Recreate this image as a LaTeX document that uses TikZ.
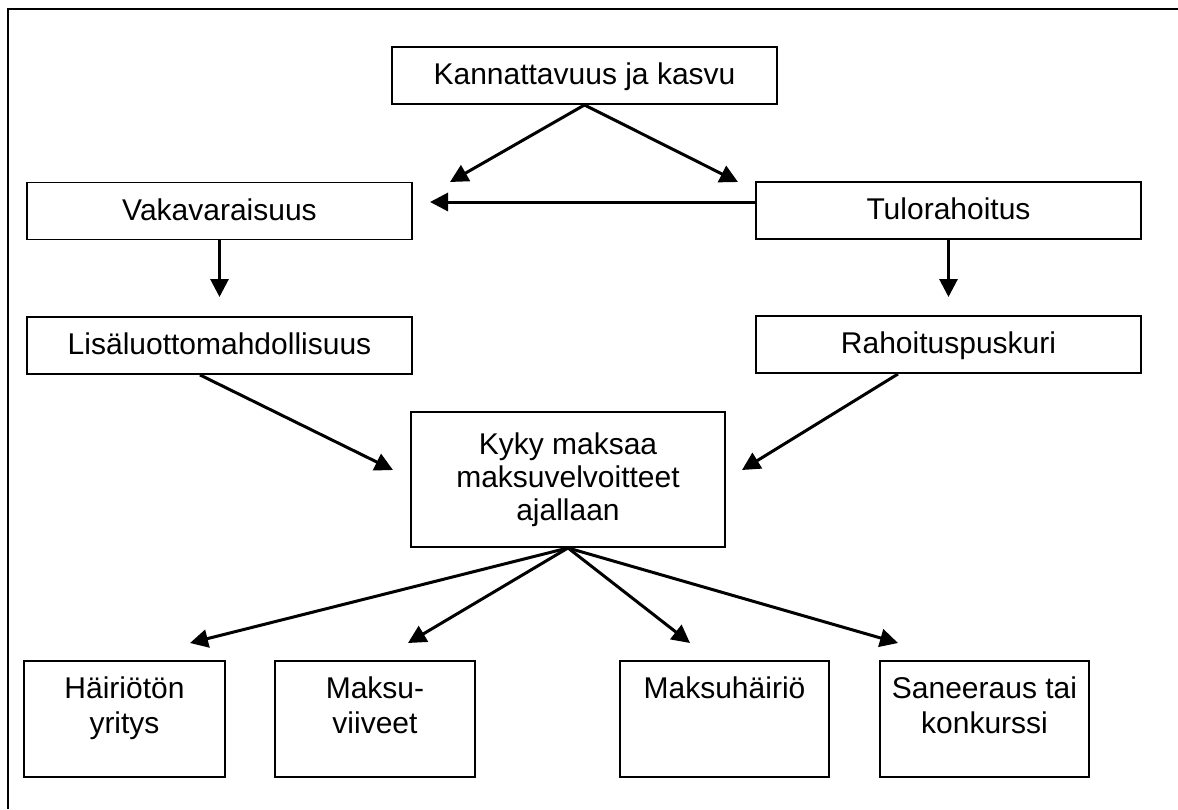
\documentclass[tikz,border=0pt]{standalone}
\usepackage{fontspec}
\setmainfont{Liberation Sans}
\usetikzlibrary{arrows.meta}
\begin{document}
\begin{tikzpicture}[x=1pt,y=-1pt,
  box/.style={draw, line width=1.9pt, inner sep=0pt, align=center,
    font=\fontsize{30}{33}\selectfont},
  wide/.style={box, minimum width=385pt, minimum height=57pt,
    text height=24pt, text depth=6pt},
  outbox/.style={box, minimum height=116pt},
  txt/.style={inner sep=0pt, align=center, anchor=north,
    font=\fontsize{30}{35}\selectfont},
  conn/.style={line width=3pt, -{Triangle[length=18pt,width=18pt]}},
  frame/.style={line width=2pt}]
\useasboundingbox (0,0) rectangle (1178,809);
\fill[white] (0,0) rectangle (1178,809);
% outer frame (only top and left edges are visible)
\coordinate (fa) at (1178,9);
\coordinate (fb) at (8,9);
\coordinate (fc) at (8,809);
\draw[frame] (fa) -- (fb) -- (fc);

% nodes
\node[wide] (kan) at (584.5,75.5) {Kannattavuus ja kasvu};
\node[wide] (vak) at (219.5,211) {Vakavaraisuus};
\node[wide] (tul) at (948.5,210.5) {Tulorahoitus};
\node[wide] (lis) at (219.5,345.5) {Lisäluottomahdollisuus};
\node[wide] (rah) at (948.5,344.5) {Rahoituspuskuri};
\node[box, minimum width=314pt, minimum height=135pt] (kyky) at (568,479.5)
  {Kyky maksaa\\maksuvelvoitteet\\ajallaan};

\node[outbox, minimum width=201pt] (h1) at (124.5,719) {};
\node[outbox, minimum width=200pt] (h2) at (375,719) {};
\node[outbox, minimum width=209pt] (h3) at (724.5,719) {};
\node[outbox, minimum width=209pt] (h4) at (984.5,719) {};
\node[txt] (h1t) at ([yshift=-17pt]h1.north) {Häiriötön\\yritys};
\node[txt] (h2t) at ([yshift=-17pt]h2.north) {Maksu-\\viiveet};
\node[txt] (h3t) at ([yshift=-17pt]h3.north) {Maksuhäiriö};
\node[txt] (h4t) at ([yshift=-17pt]h4.north) {Saneeraus tai\\konkurssi};

% free ends of connectors
\coordinate (e1) at (450,182);
\coordinate (e2) at (738,182);
\coordinate (e3) at (430,202);
\coordinate (e4) at (219.5,297);
\coordinate (e5) at (948.5,297);
\coordinate (e6) at (393,470);
\coordinate (e7) at (742,470);
\coordinate (e8) at (190,643);
\coordinate (e9) at (408,643);
\coordinate (e10) at (690,643);
\coordinate (e11) at (898,643);

% connectors
\draw[conn] (kan.south) -- (e1);
\draw[conn] (kan.south) -- (e2);
\draw[conn] ([yshift=8.5pt]tul.west) -- (e3);
\draw[conn] (vak.south) -- (e4);
\draw[conn] (tul.south) -- (e5);
\draw[conn] ([xshift=-19.5pt]lis.south) -- (e6);
\draw[conn] ([xshift=-50.5pt]rah.south) -- (e7);
\draw[conn] (kyky.south) -- (e8);
\draw[conn] (kyky.south) -- (e9);
\draw[conn] (kyky.south) -- (e10);
\draw[conn] (kyky.south) -- (e11);
\end{tikzpicture}
\end{document}
